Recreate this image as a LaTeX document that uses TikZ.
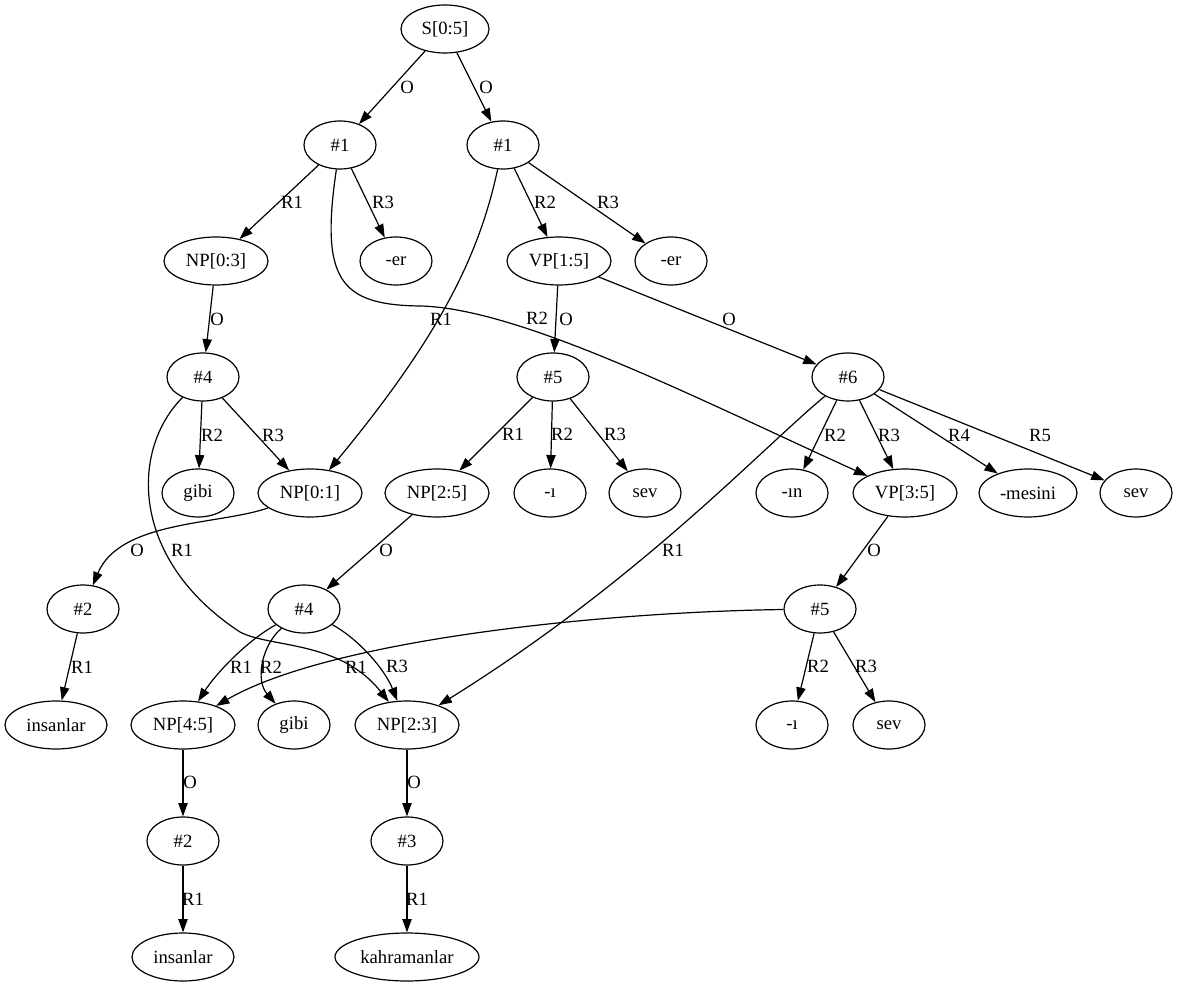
\documentclass[tikz,border=0pt]{standalone}
\usepackage{fontspec}
\setmainfont{Liberation Serif}
\usetikzlibrary{arrows.meta,shapes.geometric}
\begin{document}
\begin{tikzpicture}[x=0.75pt,y=-0.75pt,
  nd/.style={draw,ellipse,line width=0.9pt,inner sep=0pt,minimum width=54pt,minimum height=36pt,font=\fontsize{14pt}{16pt}\selectfont},
  wmid/.style={minimum width=66pt},
  wnp/.style={minimum width=78pt},
  wmes/.style={minimum width=73.5pt},
  wins/.style={minimum width=76.5pt},
  wkah/.style={minimum width=108pt},
  e/.style={draw,line width=0.9pt,-{Triangle[length=10pt,width=7pt]}},
  lbl/.style={inner sep=0pt,font=\fontsize{14pt}{16pt}\selectfont}]
\useasboundingbox (0,0) rectangle (1178,987);
% nodes
\node[nd,wmid] (S) at (445,29) {S[0:5]};
\node[nd] (a1) at (340,145) {\#1};
\node[nd] (b1) at (503,145) {\#1};
\node[nd,wnp] (np03) at (216,261) {NP[0:3]};
\node[nd] (erL) at (396,261) {-er};
\node[nd,wnp] (vp15) at (559,261) {VP[1:5]};
\node[nd] (erR) at (671,261) {-er};
\node[nd] (h4a) at (203,377) {\#4};
\node[nd] (h5a) at (553,377) {\#5};
\node[nd] (h6) at (848,377) {\#6};
\node[nd] (gibiA) at (198,493) {gibi};
\node[nd,wnp] (np01) at (310,493) {NP[0:1]};
\node[nd,wnp] (np25) at (437,493) {NP[2:5]};
\node[nd] (iA) at (550,493) {-ı};
\node[nd] (sevA) at (645,493) {sev};
\node[nd] (inn) at (792,493) {-ın};
\node[nd,wnp] (vp35) at (905,493) {VP[3:5]};
\node[nd,wmes] (mesini) at (1028,493) {-mesini};
\node[nd] (sevB) at (1136,493) {sev};
\node[nd] (h2a) at (83,609) {\#2};
\node[nd] (h4b) at (304,609) {\#4};
\node[nd] (h5b) at (820,609) {\#5};
\node[nd,wins] (insA) at (56,725) {insanlar};
\node[nd,wnp] (np45) at (183,725) {NP[4:5]};
\node[nd] (gibiB) at (294,725) {gibi};
\node[nd,wnp] (np23) at (407,725) {NP[2:3]};
\node[nd] (iB) at (792,725) {-ı};
\node[nd] (sevC) at (889,725) {sev};
\node[nd] (h2b) at (183,841) {\#2};
\node[nd] (h3) at (407,841) {\#3};
\node[nd,wins] (insB) at (183,957) {insanlar};
\node[nd,wkah] (kahr) at (407,957) {kahramanlar};
% edges
\draw[e] (S) -- (a1) node[lbl] at (407,87) {O};
\draw[e] (S) -- (b1) node[lbl] at (486,87) {O};
\draw[e] (a1) -- (np03) node[lbl] at (292,202) {R1};
\draw[e] (a1) -- (erL) node[lbl] at (383,202) {R3};
\draw[e] (a1) .. controls (320,280) and (340,305) .. (420,306) .. controls (520,308) and (700,400) .. (vp35) node[lbl] at (537,318) {R2};
\draw[e] (b1) .. controls (480,250) and (445,330) .. (np01) node[lbl] at (441,319) {R1};
\draw[e] (b1) -- (vp15) node[lbl] at (545,202) {R2};
\draw[e] (b1) -- (erR) node[lbl] at (608,202) {R3};
\draw[e] (np03) -- (h4a) node[lbl] at (217,319) {O};
\draw[e] (vp15) -- (h5a) node[lbl] at (566,319) {O};
\draw[e] (vp15) -- (h6) node[lbl] at (729,319) {O};
\draw[e] (h4a) -- (gibiA) node[lbl] at (212,435) {R2};
\draw[e] (h4a) -- (np01) node[lbl] at (273,435) {R3};
\draw[e] (h4a) .. controls (130,450) and (130,560) .. (240,632) .. controls (270,648) and (340,640) .. (np23) node[lbl] at (182,550) {R1};
\draw[e] (h5a) -- (np25) node[lbl] at (513,434) {R1};
\draw[e] (h5a) -- (iA) node[lbl] at (562,434) {R2};
\draw[e] (h5a) -- (sevA) node[lbl] at (615,434) {R3};
\draw[e] (h6) -- (inn) node[lbl] at (835,435) {R2};
\draw[e] (h6) -- (vp35) node[lbl] at (889,435) {R3};
\draw[e] (h6) -- (mesini) node[lbl] at (959,435) {R4};
\draw[e] (h6) -- (sevB) node[lbl] at (1040,435) {R5};
\draw[e] (h6) .. controls (760,450) and (640,580) .. (np23) node[lbl] at (673,550) {R1};
\draw[e] (np01) .. controls (220,525) and (120,520) .. (h2a) node[lbl] at (137,550) {O};
\draw[e] (np25) -- (h4b) node[lbl] at (386,550) {O};
\draw[e] (vp35) -- (h5b) node[lbl] at (874,550) {O};
\draw[e] (h2a) -- (insA) node[lbl] at (82,667) {R1};
\draw[e] (h4b) .. controls (245,642) and (215,675) .. (np45) node[lbl] at (241,667) {R1};
\draw[e] (h4b) .. controls (262,645) and (255,680) .. (gibiB) node[lbl] at (271,667) {R2};
\draw[e] (h4b) .. controls (360,640) and (385,670) .. (np23) node[lbl] at (397,666) {R3};
\draw[e] (h5b) .. controls (600,612) and (330,640) .. (np45) node[lbl] at (356,667) {R1};
\draw[e] (h5b) -- (iB) node[lbl] at (818,666) {R2};
\draw[e] (h5b) -- (sevC) node[lbl] at (866,666) {R3};
\draw[e] (np45) -- (h2b) node[lbl] at (190,782) {O};
\draw[e] (np23) -- (h3) node[lbl] at (414,782) {O};
\draw[e] (h2b) -- (insB) node[lbl] at (193,899) {R1};
\draw[e] (h3) -- (kahr) node[lbl] at (417,899) {R1};
\end{tikzpicture}
\end{document}
